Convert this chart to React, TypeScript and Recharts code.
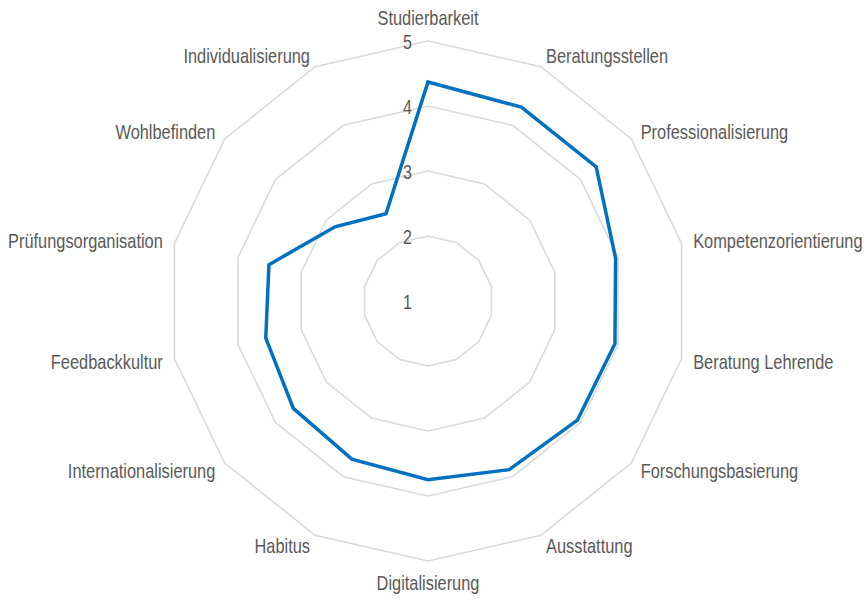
import { RadarChart, Radar, PolarGrid, PolarAngleAxis, PolarRadiusAxis } from "recharts"

const categories = [
  "Studierbarkeit", "Beratungsstellen", "Professionalisierung", "Kompetenzorientierung",
  "Beratung Lehrende", "Forschungsbasierung", "Ausstattung", "Digitalisierung",
  "Habitus", "Internationalisierung", "Feedbackkultur", "Prüfungsorganisation",
  "Wohlbefinden", "Individualisierung",
]
const values = [4.37, 4.31, 4.31, 3.96, 3.95, 3.94, 3.88, 3.75, 3.7, 3.65, 3.56, 3.51, 2.83, 2.49]
const radiusTicks = [1, 2, 3, 4, 5]

const CX = 428
const CY = 301
const R = 260
// no Arial Narrow available: squeeze Liberation Sans horizontally instead
const FONT = "'Liberation Sans', Arial, sans-serif"
const NARROW = 0.82

const data = categories.map((name, i) => ({ name, value: values[i] }))

const AngleTick = ({ x, y, payload }: any) => {
  const dx = x - CX
  const dy = y - CY
  const len = Math.sqrt(dx * dx + dy * dy) || 1
  const lx = CX + (dx / len) * 272
  let ly = CY + (dy / len) * 272
  let anchor: "start" | "middle" | "end" = "middle"
  if (Math.abs(dx) < 1) {
    ly += dy < 0 ? -11 : 10
  } else {
    anchor = dx > 0 ? "start" : "end"
  }
  return (
    <text x={0} y={0} transform={`translate(${lx},${ly}) scale(${NARROW},1)`}
          textAnchor={anchor} dominantBaseline="central"
          fill="#595959" fontSize={20} fontFamily={FONT}>
      {payload.value}
    </text>
  )
}

const RadiusTick = ({ x, y, payload }: any) => (
  <text x={0} y={0} transform={`translate(${x - 16},${y + 1}) scale(${NARROW},1)`}
        textAnchor="end" dominantBaseline="central"
        fill="#595959" fontSize={19.5} fontFamily={FONT}>
    {payload.value}
  </text>
)

export default function App() {
  return (
    <div style={{ position: "absolute", left: 0, top: 0, width: 865, height: 599, background: "#fff" }}>
      <RadarChart width={865} height={599} data={data} cx={CX} cy={CY}
                  outerRadius={R} startAngle={90} endAngle={-270}
                  margin={{ top: 0, right: 0, bottom: 0, left: 0 }}>
        <PolarGrid gridType="polygon" radialLines={false} stroke="#d9d9d9" strokeWidth={1.6} />
        <PolarAngleAxis dataKey="name" tick={<AngleTick />} tickLine={false} axisLine={false} />
        <PolarRadiusAxis angle={90} domain={[1, 5]} ticks={radiusTicks as any} tickCount={5}
                         axisLine={false} tickLine={false} tick={<RadiusTick />} />
        <Radar dataKey="value" stroke="#0070c0" strokeWidth={3.5} fill="none" fillOpacity={0}
               dot={false} isAnimationActive={false} />
      </RadarChart>
    </div>
  )
}
